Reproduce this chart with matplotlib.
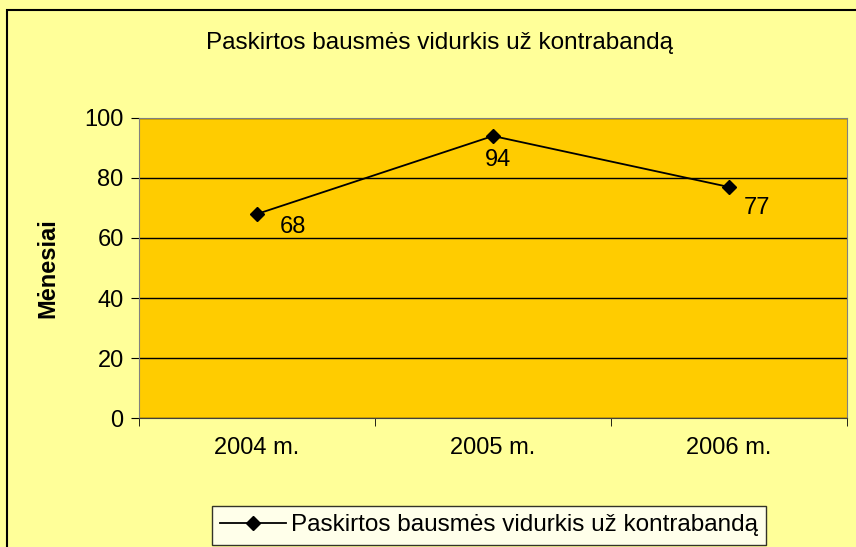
import matplotlib.pyplot as plt

years = ['2004 m.', '2005 m.', '2006 m.']
values = [68, 94, 77]
title = 'Paskirtos bausmės vidurkis už kontrabandą'

plt.rcParams['font.family'] = ['Liberation Sans', 'DejaVu Sans']
fs = 17

fig = plt.figure(figsize=(8.56, 5.47), dpi=100, facecolor='#FFFF99')
ax = fig.add_axes([0.1624, 0.2358, 0.827, 0.5485])
ax.set_facecolor('#FFCC00')

x = list(range(len(years)))
line, = ax.plot(x, values, color='black', linewidth=1.3, marker='D', markersize=7,
                label=title, zorder=3)

# data labels (Excel-style placement)
offsets = [(36, -13), (5, -24), (28, -21)]
for xi, v, off in zip(x, values, offsets):
    ax.annotate(str(v), (xi, v), xytext=off, textcoords='offset pixels',
                ha='center', va='center', fontsize=fs)

ax.set_xlim(-0.5, 2.5)
ax.set_ylim(0, 100)
ax.set_yticks(range(0, 101, 20))
ax.yaxis.grid(True, color='black', linewidth=1)
ax.set_axisbelow(True)

ax.set_xticks(x)
ax.set_xticklabels(years, fontsize=fs)
ax.set_xticks([-0.5, 0.5, 1.5, 2.5], minor=True)
ax.tick_params(axis='x', which='major', length=0, pad=14)
ax.tick_params(axis='x', which='minor', length=6, color='black', direction='out')
ax.tick_params(axis='y', labelsize=fs, length=6, direction='out', pad=5)

for s in ['top', 'right']:
    ax.spines[s].set_color('#808080')
ax.spines['left'].set_color('#808080')
ax.spines['bottom'].set_color('#404040')

ax.set_ylabel('Mėnesiai', fontsize=fs, fontweight='bold', labelpad=18)
fig.text(0.514, 0.921, title, ha='center', va='center', fontsize=17.5)

leg = fig.legend(handles=[line], loc='center', bbox_to_anchor=(0.571, 0.040),
                 fontsize=17.5, frameon=True, fancybox=False, handlelength=2.7,
                 borderpad=0.35, handletextpad=0.2)
leg.get_frame().set_edgecolor('black')
leg.get_frame().set_facecolor('white')
leg.get_frame().set_linewidth(1)

# figure border
fig.patches.append(plt.Rectangle((0.008, -0.01), 1.0, 0.992, transform=fig.transFigure,
                                 fill=False, edgecolor='black', linewidth=1.5))

fig.savefig('out.png', dpi=100, facecolor=fig.get_facecolor())
